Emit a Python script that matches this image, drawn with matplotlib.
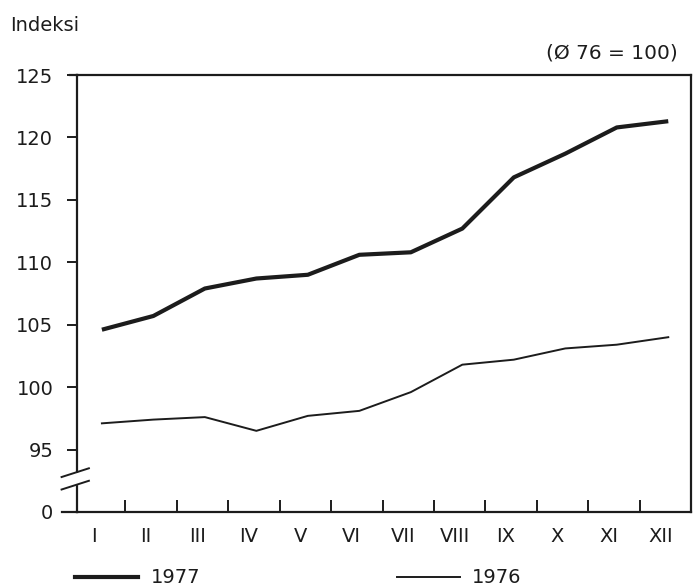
"""
Indeksi 1976 / 1977 per bulan (Ø 76 = 100), garis tebal vs tipis.
Output: out.png
"""
import matplotlib
matplotlib.use("Agg")
import matplotlib.pyplot as plt
import numpy as np

plt.rcParams["font.family"] = ["DejaVu Sans"]

# data
months = ["I", "II", "III", "IV", "V", "VI", "VII", "VIII", "IX", "X", "XI", "XII"]
idx_1977 = [104.6, 105.7, 107.9, 108.7, 109.0, 110.6, 110.8, 112.7, 116.8, 118.7, 120.8, 121.3]
idx_1976 = [97.1, 97.4, 97.6, 96.5, 97.7, 98.1, 99.6, 101.8, 102.2, 103.1, 103.4, 104.0]
ytick_vals = [90, 95, 100, 105, 110, 115, 120, 125]
ytick_labels = ["0", "95", "100", "105", "110", "115", "120", "125"]

INK = "#1c1c1c"


def main():
    fig = plt.figure(figsize=(6.93, 5.86), dpi=100)
    ax = fig.add_axes([0.111, 0.1263, 0.886, 0.7457])
    x = np.arange(1, len(months) + 1)

    ax.plot(x, idx_1977, color=INK, lw=3.0, solid_capstyle="butt")
    ax.plot(x, idx_1976, color=INK, lw=1.4)

    ax.set_xlim(0.515, 12.44)
    ax.set_ylim(90, 125)

    for s in ax.spines.values():
        s.set_color(INK)
        s.set_linewidth(1.6)

    # sumbu y
    ax.set_yticks(ytick_vals)
    ax.set_yticklabels(ytick_labels)
    ax.tick_params(axis="y", direction="out", length=7, width=1.4, color=INK,
                   labelsize=14, pad=10, labelcolor=INK)
    # 0 tanpa garis tick: disembunyikan
    ax.yaxis.get_major_ticks()[0].tick1line.set_visible(False)

    # sumbu x: label di titik data, tick kecil di antaranya
    ax.set_xticks(x - 0.15)
    ax.set_xticklabels(months)
    ax.tick_params(axis="x", which="major", length=0, labelsize=14, pad=11,
                   labelcolor=INK)
    ax.set_xticks(np.arange(1, 12) + 0.45, minor=True)
    ax.tick_params(axis="x", which="minor", direction="in", length=9, width=1.4,
                   color=INK)

    # garis atas dan bawah sedikit menjorok ke kiri
    ax.plot([-0.012, 0], [1, 1], transform=ax.transAxes, color=INK, lw=1.6,
            clip_on=False)
    ax.plot([-0.025, 0], [0, 0], transform=ax.transAxes, color=INK, lw=1.6,
            clip_on=False)

    # tanda patah sumbu
    ax.plot([0, 0], [92.3, 93.0], transform=ax.get_yaxis_transform(), color="white",
            lw=3, clip_on=False, zorder=5)
    for yc in (93.15, 92.15):
        ax.plot([-0.025, 0.0195], [yc - 0.35, yc + 0.35], transform=ax.get_yaxis_transform(),
                color=INK, lw=1.4, clip_on=False, zorder=6)

    fig.text(0.014, 0.957, "Indeksi", fontsize=14, color=INK, va="center")
    fig.text(0.978, 0.909, "(Ø 76 = 100)", fontsize=14.5, color=INK, va="center",
             ha="right")

    # legenda manual
    fig.lines.append(plt.Line2D([0.108, 0.199], [0.015, 0.015], transform=fig.transFigure,
                                color=INK, lw=3.0))
    fig.text(0.217, 0.015, "1977", fontsize=14, color=INK, va="center")
    fig.lines.append(plt.Line2D([0.573, 0.664], [0.015, 0.015], transform=fig.transFigure,
                                color=INK, lw=1.4))
    fig.text(0.681, 0.015, "1976", fontsize=14, color=INK, va="center")

    fig.savefig("out.png", dpi=100)


if __name__ == "__main__":
    main()
